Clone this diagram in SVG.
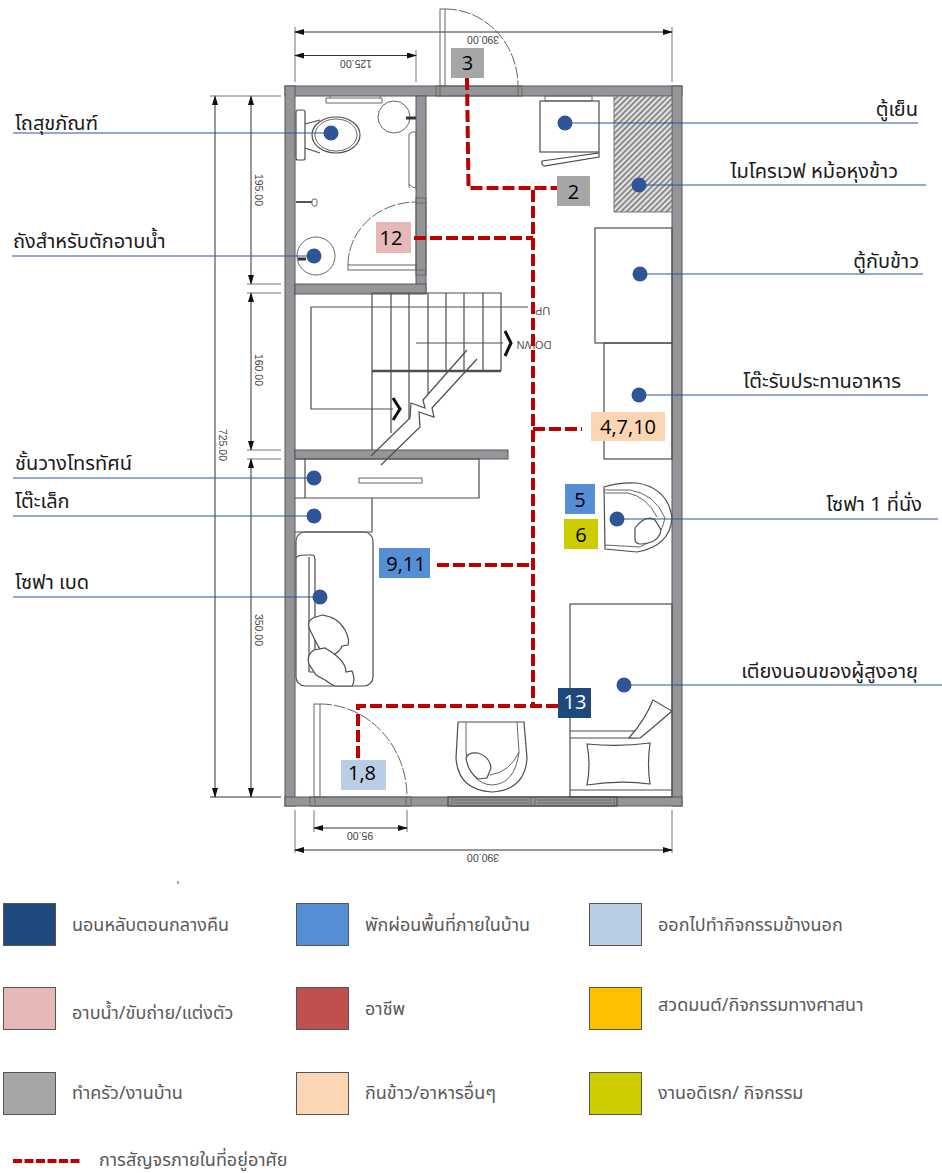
<svg xmlns="http://www.w3.org/2000/svg" width="942" height="1173" viewBox="0 0 942 1173">
<style>
text{font-family:"Noto Sans","Noto Sans Thai","DejaVu Sans","Liberation Sans",sans-serif}
.lab{font-size:20px;fill:#1a1a1a}
.leg{font-size:18px;fill:#595959}
.num{font-size:20px;fill:#000;text-anchor:middle;font-family:"Open Sans","Noto Sans",sans-serif}
.wall{fill:#939598;stroke:#58595b;stroke-width:1}
.ln{fill:none;stroke:#4d4d4d;stroke-width:1.2}
.fine{fill:none;stroke:#666;stroke-width:1}
.dash{fill:none;stroke:#666;stroke-width:1;stroke-dasharray:12 2}
.dim{fill:none;stroke:#333;stroke-width:1}
.ext{fill:none;stroke:#777;stroke-width:1}
.dimt{font-size:10.5px;fill:#444;text-anchor:middle;font-family:"Liberation Sans",sans-serif}
.lead{stroke:#2f5597;stroke-width:1.2;fill:none}
.dot{fill:#2f5597}
.route{fill:none;stroke:#c00000;stroke-width:4;stroke-dasharray:12 4}
.sw{stroke:#555;stroke-width:1}
</style>
<defs>
<marker id="a" markerWidth="10" markerHeight="6" refX="9" refY="3" orient="auto" markerUnits="userSpaceOnUse"><path d="M0,0L10,3L0,6Z" fill="#111"/></marker>
<marker id="b" markerWidth="10" markerHeight="6" refX="1" refY="3" orient="auto" markerUnits="userSpaceOnUse"><path d="M10,0L0,3L10,6Z" fill="#111"/></marker>
<pattern id="hatch" width="4" height="4" patternUnits="userSpaceOnUse" patternTransform="rotate(-45)"><rect width="4" height="4" fill="#e4e4e4"/><rect width="4" height="1.6" fill="#777"/></pattern>
</defs>

<g id="dimensions">
<path class="ext" d="M295,27V82M416,50V82M672,27V82M295,810V853M314,810V832M407,810V832M672,810V853"/>
<path class="dim" marker-start="url(#b)" marker-end="url(#a)" d="M295,32H672"/>
<path class="dim" marker-start="url(#b)" marker-end="url(#a)" d="M295,55.500H416"/>
<path class="dim" marker-start="url(#b)" marker-end="url(#a)" d="M314,828H407"/>
<path class="dim" marker-start="url(#b)" marker-end="url(#a)" d="M295,850H672"/>
<path class="dim" marker-start="url(#b)" marker-end="url(#a)" d="M215,96V797"/>
<path class="dim" marker-start="url(#b)" marker-end="url(#a)" d="M251,96V284"/>
<path class="dim" marker-start="url(#b)" marker-end="url(#a)" d="M251,293V450"/>
<path class="dim" marker-start="url(#b)" marker-end="url(#a)" d="M251,459V797"/>
<path class="ext" d="M210,96H281M247,284H281M247,293H281M247,450H281M247,459H281"/>
<path class="dim" d="M210,797H281"/>
<text class="dimt" transform="translate(483,36) rotate(180)">390.00</text>
<text class="dimt" transform="translate(356,60) rotate(180)">125.00</text>
<text class="dimt" transform="translate(360,832) rotate(180)">95.00</text>
<text class="dimt" transform="translate(483,854) rotate(180)">390.00</text>
<text class="dimt" transform="translate(255,190) rotate(90)">195.00</text>
<text class="dimt" transform="translate(255,370) rotate(90)">160.00</text>
<text class="dimt" transform="translate(255,630) rotate(90)">350.00</text>
<text class="dimt" transform="translate(219,445) rotate(90)">725.00</text>
</g>

<g id="walls">
<rect class="wall" x="285" y="86" width="397" height="10"/>
<rect class="wall" x="285" y="86" width="10" height="720"/>
<rect class="wall" x="672" y="86" width="10" height="720"/>
<rect class="wall" x="285" y="797" width="397" height="9"/>
<rect class="wall" x="416" y="96" width="10" height="197"/>
<rect class="wall" x="295" y="284" width="131" height="10"/>
<rect class="wall" x="295" y="450" width="213" height="9"/>
<rect x="416" y="198" width="10" height="77" fill="#fff" class="fine"/>
<path class="fine" d="M416,203H426M416,270H426"/>
</g>

<g id="entry-door">
<rect x="436" y="86" width="86" height="10" fill="#fff" class="fine"/>
<path class="fine" d="M440,86V96M518,86V96"/>
<rect x="440" y="9" width="5" height="77" fill="#fff" class="fine"/>
<path class="dash" d="M445,9A73,77 0 0 1 518,86"/>
</g>

<g id="bath-fixtures">
<rect class="ln" x="296" y="110" width="9" height="50" rx="2" fill="#fff"/>
<path class="ln" d="M305,124L320,120M305,148L320,153"/>
<ellipse class="ln" cx="336" cy="135" rx="24" ry="18"/>
<ellipse class="fine" cx="336" cy="135" rx="21" ry="16"/>
<path class="fine" d="M326,98H382V103H326ZM330,96V98M380,96V98"/>
<circle class="fine" cx="394" cy="117" r="16"/>
<path d="M406,118H416" stroke="#333" stroke-width="3"/>
<path class="fine" d="M409,188V134Q412,131 416,132M416,132V188M409,184Q412,188 416,188"/>
<path d="M296,202H312" stroke="#555" stroke-width="2"/>
<rect class="fine" x="312" y="199" width="5" height="7" rx="2"/>
<circle class="fine" cx="316" cy="256" r="19"/>
<path d="M298,259H306" stroke="#333" stroke-width="3"/>
<rect class="fine" x="348" y="265" width="68" height="5"/>
<path class="dash" d="M348,265A68,63 0 0 1 416,202"/>
</g>

<g id="kitchen">
<rect class="ln" x="540" y="101" width="59" height="51"/>
<rect class="fine" x="545" y="96" width="47" height="5"/>
<path class="ln" d="M542,161L599,153V157L544,166Q541,164 542,161Z"/>
<rect x="614" y="96" width="58" height="116" fill="url(#hatch)" stroke="#777"/>
<rect class="ln" x="595" y="228" width="77" height="115"/>
<rect class="ln" x="604" y="343" width="68" height="116"/>
</g>

<g id="stairs">
<path class="ln" d="M372,293H501V371M372,293V450M391,293V433M409,293V419M428,293V394M446,293V371M464,293V371M483,293V371"/>
<path d="M372,371H501" stroke="#4d4d4d" stroke-width="2.500" fill="none"/>
<path class="ln" d="M528,307H311V409H393M416,343H503"/>
<path d="M505,331L511,343L505,356" fill="none" stroke="#111" stroke-width="3"/>
<path d="M393,398L400,409L393,420" fill="none" stroke="#111" stroke-width="3"/>
<path class="ln" d="M371,456L410,418L411,403L425,408L423,400L467,350M381,465L420,427L419,412L434,417L432,408L477,359"/>
<text transform="translate(542.500,307) rotate(180)" font-size="11" fill="#555" text-anchor="middle" style="font-family:'Liberation Sans',sans-serif">UP</text>
<text transform="translate(534,341) rotate(180)" font-size="11" fill="#555" text-anchor="middle" style="font-family:'Liberation Sans',sans-serif">DOWN</text>
</g>

<g id="living">
<path class="ln" d="M295,459H479V498H295M305,459V498"/>
<rect class="fine" x="359" y="478" width="63" height="5"/>
<path class="ln" d="M295,532H372V498"/>
<rect class="ln" x="296" y="532" width="77" height="154" rx="9"/>
<path class="ln" d="M296,558Q298,555 304,555H313Q315,556 315,560V672H309M309,557V672"/>
<path class="ln" fill="#fff" d="M310,630Q306,622 313,618L322,615Q338,617 345,630Q350,640 348,645L342,646Q340,652 330,657Q320,652 316,642Z" style="fill:#fff"/>
<path class="ln" style="fill:#fff" d="M309,664Q306,655 314,650L325,648Q346,660 346,672L352,671Q356,680 352,686H335Q330,684 325,680L316,675Z"/>
<path class="ln" d="M604,487Q620,482 637,483Q668,488 672,518Q670,546 637,552L605,549Z"/>
<path class="fine" d="M604,490H630Q655,494 665,518Q662,538 640,547L605,545M605,493H628Q647,497 657,517"/>
<path class="ln" style="fill:#fff" d="M635,528Q646,514 655,520L661,530Q660,540 648,543Q636,546 635,540Z"/>
<path class="ln" d="M458,722H524L527,758Q525,790 492,792Q458,790 456,758Z"/>
<path class="fine" d="M466,722V752Q470,784 492,785Q515,784 519,752L517,722"/>
<path class="ln" style="fill:#fff" d="M466,758Q468,752 478,753Q490,757 491,768L487,778L478,779Q468,772 466,758Z"/>
<path class="fine" d="M490,775Q510,772 519,752"/>
</g>

<g id="bed">
<rect class="ln" x="570" y="604" width="102" height="193"/>
<path class="ln" d="M570,731H635M570,738H637M570,790H672"/>
<path class="ln" style="fill:#fff" d="M629,738Q645,720 653,700L672,711Q655,726 640,738Z"/>
<path class="ln" style="fill:#fff" d="M587,744Q620,747 650,743Q647,765 650,784Q620,780 587,785Q591,765 587,744Z"/>
</g>

<g id="window">
<rect x="448" y="797" width="169" height="9" fill="#fff" class="ln"/>
<path class="fine" d="M452,797V806M531,797V806M535,797V806M614,797V806M454,800H529M454,803H529M537,800H612M537,803H612"/>
</g>

<g id="front-door">
<rect x="310" y="797" width="101" height="9" fill="#fff" class="fine"/>
<path class="fine" d="M315,797V806M406,797V806"/>
<rect x="314" y="704" width="6" height="93" fill="#fff" class="fine"/>
<path class="dash" d="M320,704A87,93 0 0 1 407,797"/>
</g>

<g id="connectors">
<path class="route" d="M467,78L468.500,188H557"/>
<path class="route" d="M533,190V706"/>
<path class="route" d="M414,238H533"/>
<path class="route" d="M533,429H582"/>
<path class="route" d="M437,565H530"/>
<path class="route" d="M558,706H358V760"/>
<path class="lead" d="M13,133H331M12,256H314M13,478H314M13,516H314M13,597H320M565,123H918M639,185H926M640,274H923M639,395H928M617,519H938M624,685H942"/>
</g>

<g id="callouts">
<g id="n-toilet"><circle class="dot" cx="331" cy="133" r="7.500"/><text class="lab" x="15" y="130">โถสุขภัณฑ์</text></g>
<g id="n-bucket"><circle class="dot" cx="314" cy="256" r="7.500"/><text class="lab" x="13" y="248">ถังสำหรับตักอาบน้ำ</text></g>
<g id="n-tv"><circle class="dot" cx="314" cy="478" r="7.500"/><text class="lab" x="15" y="470">ชั้นวางโทรทัศน์</text></g>
<g id="n-side"><circle class="dot" cx="314" cy="516" r="7.500"/><text class="lab" x="15" y="508">โต๊ะเล็ก</text></g>
<g id="n-sofabed"><circle class="dot" cx="320" cy="597" r="7.500"/><text class="lab" x="15" y="589">โซฟา เบด</text></g>
<g id="n-fridge"><circle class="dot" cx="565" cy="123" r="7.500"/><text class="lab" x="918" y="116" text-anchor="end">ตู้เย็น</text></g>
<g id="n-micro"><circle class="dot" cx="639" cy="185" r="7.500"/><text class="lab" x="898" y="178" text-anchor="end">ไมโครเวฟ หม้อหุงข้าว</text></g>
<g id="n-cabinet"><circle class="dot" cx="640" cy="274" r="7.500"/><text class="lab" x="919" y="268" text-anchor="end">ตู้กับข้าว</text></g>
<g id="n-table"><circle class="dot" cx="639" cy="395" r="7.500"/><text class="lab" x="901" y="388" text-anchor="end">โต๊ะรับประทานอาหาร</text></g>
<g id="n-sofa1"><circle class="dot" cx="617" cy="519" r="7.500"/><text class="lab" x="922" y="511" text-anchor="end">โซฟา 1 ที่นั่ง</text></g>
<g id="n-bedlabel"><circle class="dot" cx="624" cy="685" r="7.500"/><text class="lab" x="918" y="678" text-anchor="end">เตียงนอนของผู้สูงอายุ</text></g>
</g>

<g id="activities">
<g id="a3"><rect x="451" y="48" width="33" height="30" fill="#a6a6a6"/><text class="num" x="467.500" y="70">3</text></g>
<g id="a2"><rect x="557" y="176" width="33" height="30" fill="#a6a6a6"/><text class="num" x="573.500" y="199">2</text></g>
<g id="a12"><rect x="376" y="222" width="35" height="31" fill="#e6b8b7"/><text class="num" x="391" y="245">12</text></g>
<g id="a4"><rect x="591" y="412" width="74" height="29" fill="#fcd5b5"/><text class="num" x="628" y="434">4,7,10</text></g>
<g id="a5"><rect x="565" y="484" width="30" height="30" fill="#558ed5"/><text class="num" x="580" y="507">5</text></g>
<g id="a6"><rect x="564" y="519" width="34" height="30" fill="#cccc00"/><text class="num" x="581" y="542">6</text></g>
<g id="a9"><rect x="379" y="548" width="51" height="30" fill="#558ed5"/><text class="num" x="406" y="571">9,11</text></g>
<g id="a13"><rect x="558" y="688" width="33" height="30" fill="#1f497d"/><text class="num" x="575" y="709" style="fill:#fff">13</text></g>
<g id="a1"><rect x="341" y="760" width="45" height="30" fill="#b9cde5"/><text class="num" x="362" y="780">1,8</text></g>
</g>

<rect x="177.500" y="881" width="1" height="3" fill="#555"/>

<g id="legend">
<g id="l1"><rect class="sw" x="3.500" y="903.500" width="52" height="42" fill="#1f497d"/><text class="leg" x="72" y="931">นอนหลับตอนกลางคืน</text></g>
<g id="l2"><rect class="sw" x="296.500" y="903.500" width="52" height="42" fill="#558ed5"/><text class="leg" x="365" y="931">พักผ่อนพื้นที่ภายในบ้าน</text></g>
<g id="l3"><rect class="sw" x="589.500" y="903.500" width="52" height="42" fill="#b9cde5"/><text class="leg" x="658" y="931">ออกไปทำกิจกรรมข้างนอก</text></g>
<g id="l4"><rect class="sw" x="3.500" y="987.500" width="52" height="42" fill="#e6b8b7"/><text class="leg" x="72" y="1019">อาบน้ำ/ขับถ่าย/แต่งตัว</text></g>
<g id="l5"><rect class="sw" x="296.500" y="987.500" width="52" height="42" fill="#c0504d"/><text class="leg" x="365" y="1015">อาชีพ</text></g>
<g id="l6"><rect class="sw" x="589.500" y="987.500" width="52" height="42" fill="#ffc000"/><text class="leg" x="658" y="1011">สวดมนต์/กิจกรรมทางศาสนา</text></g>
<g id="l7"><rect class="sw" x="3.500" y="1072.500" width="52" height="42" fill="#a6a6a6"/><text class="leg" x="72" y="1099">ทำครัว/งานบ้าน</text></g>
<g id="l8"><rect class="sw" x="296.500" y="1072.500" width="52" height="42" fill="#fcd5b5"/><text class="leg" x="365" y="1099">กินข้าว/อาหารอื่นๆ</text></g>
<g id="l9"><rect class="sw" x="589.500" y="1072.500" width="52" height="42" fill="#cccc00"/><text class="leg" x="658" y="1099">งานอดิเรก/ กิจกรรม</text></g>
<g id="l10"><path d="M13,1161H80" stroke="#c00000" stroke-width="4" stroke-dasharray="9 2.500" fill="none"/><text class="leg" x="99" y="1166">การสัญจรภายในที่อยู่อาศัย</text></g>
</g>
</svg>
